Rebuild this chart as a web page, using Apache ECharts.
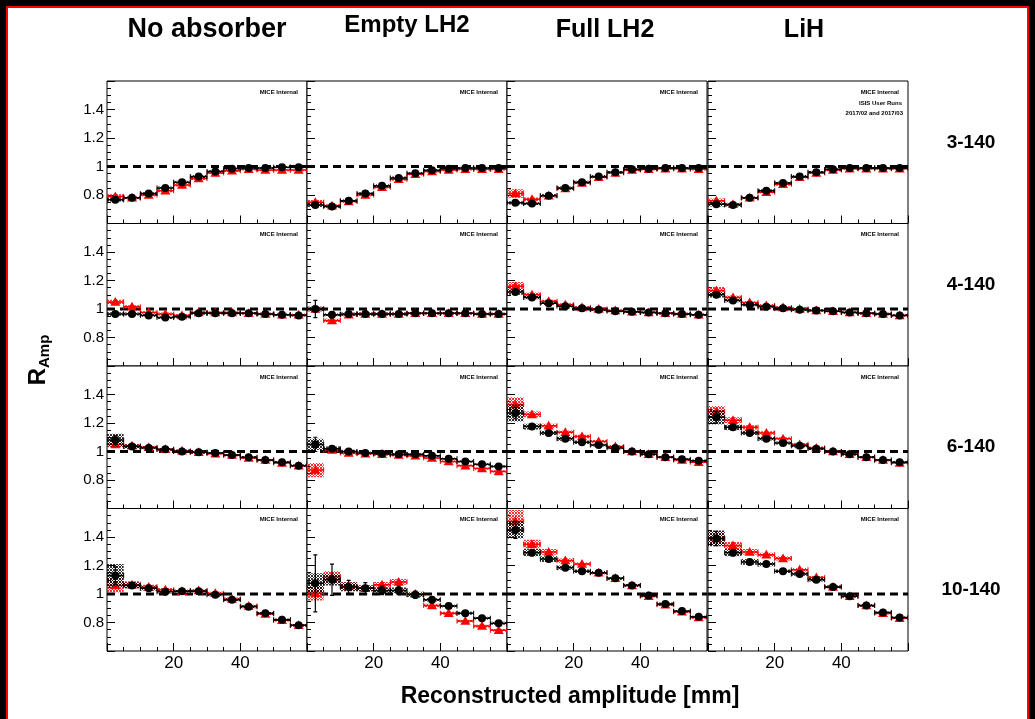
<!DOCTYPE html>
<html><head><meta charset="utf-8">
<script src="https://cdn.jsdelivr.net/npm/echarts@6/dist/echarts.min.js"></script>
<style>html,body{margin:0;padding:0;background:#000;}#c{width:1035px;height:719px;}</style>
</head><body><div id="c"></div>
<script>
// ---------- categories / labels ----------
const binCentres = [2.5,7.5,12.5,17.5,22.5,27.5,32.5,37.5,42.5,47.5,52.5,57.5];
const binHalfWidth = 2.5;
const absorbers = ['No absorber','Empty LH2','Full LH2','LiH'];
const emittances = ['3-140','4-140','6-140','10-140'];
const yTickLabels = ['0.8','1','1.2','1.4'];
const xTickLabels = ['20','40'];
const refLine = 1;

// ---------- data: 3-140 ----------
const blk_NA_3 = [0.766,0.78,0.81,0.85,0.89,0.93,0.965,0.985,0.99,0.99,0.995,0.995];
const red_NA_3 = [0.79,0.78,0.80,0.83,0.87,0.915,0.955,0.97,0.98,0.975,0.975,0.975];
const blk_EL_3 = [0.73,0.72,0.76,0.81,0.865,0.92,0.953,0.974,0.985,0.99,0.99,0.99];
const red_EL_3 = [0.75,0.725,0.755,0.80,0.855,0.91,0.945,0.965,0.975,0.98,0.98,0.98];
const blk_FL_3 = [0.745,0.74,0.795,0.85,0.89,0.93,0.96,0.98,0.985,0.99,0.99,0.99];
const red_FL_3 = [0.81,0.77,0.795,0.845,0.885,0.925,0.955,0.975,0.98,0.985,0.985,0.98];
const blk_LI_3 = [0.735,0.73,0.78,0.83,0.885,0.93,0.96,0.98,0.99,0.99,0.99,0.99];
const red_LI_3 = [0.76,0.735,0.78,0.82,0.875,0.925,0.955,0.975,0.985,0.985,0.985,0.985];
// ---------- data: 4-140 ----------
const blk_NA_4 = [0.965,0.965,0.955,0.94,0.945,0.97,0.97,0.97,0.97,0.965,0.96,0.955];
const red_NA_4 = [1.05,1.015,0.975,0.965,0.955,0.975,0.975,0.975,0.97,0.965,0.96,0.96];
const blk_EL_4 = [1.0,0.96,0.965,0.965,0.965,0.965,0.97,0.97,0.97,0.97,0.965,0.965];
const red_EL_4 = [1.0,0.92,0.96,0.965,0.965,0.965,0.97,0.97,0.97,0.97,0.965,0.965];
const blk_FL_4 = [1.12,1.08,1.04,1.02,1.005,0.995,0.985,0.98,0.975,0.97,0.965,0.96];
const red_FL_4 = [1.16,1.10,1.055,1.03,1.01,1.0,0.99,0.98,0.975,0.97,0.965,0.96];
const blk_LI_4 = [1.10,1.06,1.03,1.015,1.005,0.995,0.99,0.985,0.975,0.97,0.965,0.955];
const red_LI_4 = [1.13,1.08,1.045,1.025,1.01,1.0,0.99,0.985,0.975,0.97,0.965,0.955];
// ---------- data: 6-140 ----------
const blk_NA_6 = [1.08,1.035,1.025,1.015,1.0,0.995,0.99,0.975,0.96,0.94,0.925,0.9];
const red_NA_6 = [1.05,1.04,1.03,1.015,1.005,0.995,0.985,0.975,0.955,0.94,0.92,0.9];
const blk_EL_6 = [1.05,1.02,1.0,0.99,0.985,0.98,0.98,0.97,0.95,0.93,0.91,0.895];
const red_EL_6 = [0.87,1.01,0.99,0.985,0.98,0.975,0.97,0.955,0.93,0.9,0.88,0.86];
const blk_FL_6 = [1.27,1.175,1.13,1.09,1.065,1.045,1.025,1.0,0.98,0.96,0.945,0.935];
const red_FL_6 = [1.33,1.26,1.18,1.135,1.105,1.07,1.035,1.0,0.98,0.96,0.94,0.925];
const blk_LI_6 = [1.24,1.17,1.13,1.09,1.06,1.04,1.02,1.0,0.98,0.96,0.94,0.925];
const red_LI_6 = [1.28,1.22,1.17,1.13,1.09,1.05,1.025,1.0,0.98,0.96,0.94,0.92];
// ---------- data: 10-140 ----------
const blk_NA_10 = [1.13,1.06,1.04,1.015,1.02,1.02,0.995,0.96,0.91,0.865,0.82,0.78];
const red_NA_10 = [1.06,1.065,1.05,1.03,1.02,1.025,1.005,0.965,0.915,0.86,0.815,0.78];
const blk_EL_10 = [1.075,1.1,1.05,1.04,1.025,1.025,0.995,0.96,0.915,0.865,0.83,0.795];
const red_EL_10 = [1.005,1.12,1.055,1.04,1.065,1.085,1.0,0.92,0.865,0.81,0.775,0.745];
const blk_FL_10 = [1.45,1.29,1.245,1.185,1.16,1.15,1.11,1.06,0.99,0.93,0.88,0.84];
const red_FL_10 = [1.51,1.35,1.295,1.235,1.21,1.15,1.11,1.06,0.985,0.925,0.875,0.835];
const blk_LI_10 = [1.39,1.29,1.225,1.21,1.16,1.14,1.1,1.05,0.985,0.92,0.87,0.835];
const red_LI_10 = [1.39,1.34,1.295,1.275,1.25,1.17,1.115,1.05,0.985,0.92,0.865,0.83];

// ---------- systematic (box half-heights) ----------
const bsys_NA_3 = [0.012,0.01,0.01,0.01,0.01,0.01,0.008,0.008,0.008,0.008,0.008,0.008];
const rsys_NA_3 = [0.015,0.01,0.01,0.01,0.01,0.01,0.008,0.008,0.008,0.008,0.008,0.008];
const bsys_EL_3 = [0.015,0.01,0.01,0.01,0.01,0.01,0.008,0.008,0.008,0.008,0.008,0.008];
const rsys_EL_3 = [0.015,0.01,0.01,0.01,0.01,0.01,0.008,0.008,0.008,0.008,0.008,0.008];
const bsys_FL_3 = [0.012,0.01,0.01,0.01,0.01,0.01,0.008,0.008,0.008,0.008,0.008,0.008];
const rsys_FL_3 = [0.03,0.012,0.01,0.01,0.01,0.01,0.008,0.008,0.008,0.008,0.008,0.008];
const bsys_LI_3 = [0.015,0.01,0.01,0.01,0.01,0.01,0.008,0.008,0.008,0.008,0.008,0.008];
const rsys_LI_3 = [0.015,0.01,0.01,0.01,0.01,0.01,0.008,0.008,0.008,0.008,0.008,0.008];
const bsys_NA_4 = [0.012,0.01,0.01,0.01,0.01,0.01,0.008,0.008,0.008,0.008,0.008,0.008];
const rsys_NA_4 = [0.015,0.012,0.01,0.01,0.01,0.01,0.008,0.008,0.008,0.008,0.008,0.008];
const bsys_EL_4 = [0.015,0.01,0.01,0.01,0.01,0.01,0.008,0.008,0.008,0.008,0.008,0.008];
const rsys_EL_4 = [0.015,0.012,0.01,0.01,0.01,0.01,0.008,0.008,0.008,0.008,0.008,0.008];
const bsys_FL_4 = [0.02,0.012,0.01,0.01,0.01,0.01,0.008,0.008,0.008,0.008,0.008,0.008];
const rsys_FL_4 = [0.03,0.015,0.01,0.01,0.01,0.01,0.008,0.008,0.008,0.008,0.008,0.008];
const bsys_LI_4 = [0.02,0.012,0.01,0.01,0.01,0.01,0.008,0.008,0.008,0.008,0.008,0.008];
const rsys_LI_4 = [0.025,0.015,0.01,0.01,0.01,0.01,0.008,0.008,0.008,0.008,0.008,0.008];
const bsys_NA_6 = [0.045,0.015,0.01,0.01,0.01,0.01,0.008,0.008,0.008,0.008,0.008,0.008];
const rsys_NA_6 = [0.02,0.012,0.01,0.01,0.01,0.01,0.008,0.008,0.008,0.008,0.008,0.008];
const bsys_EL_6 = [0.04,0.015,0.012,0.01,0.01,0.01,0.008,0.008,0.008,0.008,0.008,0.008];
const rsys_EL_6 = [0.05,0.015,0.012,0.01,0.01,0.01,0.008,0.008,0.008,0.008,0.008,0.008];
const bsys_FL_6 = [0.06,0.02,0.015,0.015,0.012,0.01,0.01,0.008,0.008,0.008,0.008,0.008];
const rsys_FL_6 = [0.05,0.02,0.015,0.012,0.012,0.01,0.01,0.008,0.008,0.008,0.008,0.008];
const bsys_LI_6 = [0.05,0.02,0.015,0.012,0.01,0.01,0.01,0.008,0.008,0.008,0.008,0.008];
const rsys_LI_6 = [0.04,0.02,0.015,0.012,0.01,0.01,0.01,0.008,0.008,0.008,0.008,0.008];
const bsys_NA_10 = [0.08,0.02,0.015,0.012,0.01,0.01,0.01,0.01,0.01,0.008,0.008,0.008];
const rsys_NA_10 = [0.05,0.025,0.015,0.012,0.01,0.01,0.01,0.01,0.01,0.008,0.008,0.008];
const bsys_EL_10 = [0.07,0.04,0.03,0.02,0.02,0.02,0.015,0.012,0.01,0.01,0.01,0.01];
const rsys_EL_10 = [0.05,0.04,0.03,0.02,0.02,0.02,0.015,0.012,0.01,0.01,0.01,0.01];
const bsys_FL_10 = [0.06,0.025,0.02,0.015,0.012,0.012,0.01,0.01,0.01,0.01,0.008,0.008];
const rsys_FL_10 = [0.08,0.03,0.02,0.015,0.012,0.012,0.01,0.01,0.01,0.01,0.008,0.008];
const bsys_LI_10 = [0.055,0.025,0.02,0.015,0.012,0.012,0.012,0.01,0.01,0.01,0.008,0.008];
const rsys_LI_10 = [0.05,0.025,0.02,0.015,0.015,0.012,0.012,0.01,0.01,0.01,0.008,0.008];

// ---------- statistical (vertical bars, black) ----------
const bstat_NA_3 = [0.006,0.005,0.005,0.005,0.005,0.005,0.005,0.005,0.005,0.005,0.005,0.005];
const bstat_EL_3 = [0.008,0.006,0.006,0.005,0.005,0.005,0.005,0.005,0.005,0.005,0.005,0.005];
const bstat_FL_3 = [0.006,0.005,0.005,0.005,0.005,0.005,0.005,0.005,0.005,0.005,0.005,0.005];
const bstat_LI_3 = [0.006,0.005,0.005,0.005,0.005,0.005,0.005,0.005,0.005,0.005,0.005,0.005];
const bstat_NA_4 = [0.01,0.006,0.005,0.005,0.005,0.005,0.005,0.005,0.005,0.005,0.005,0.005];
const bstat_EL_4 = [0.06,0.02,0.01,0.008,0.006,0.006,0.005,0.005,0.005,0.005,0.005,0.005];
const bstat_FL_4 = [0.015,0.008,0.006,0.005,0.005,0.005,0.005,0.005,0.005,0.005,0.005,0.005];
const bstat_LI_4 = [0.015,0.008,0.006,0.005,0.005,0.005,0.005,0.005,0.005,0.005,0.005,0.005];
const bstat_NA_6 = [0.03,0.01,0.008,0.006,0.005,0.005,0.005,0.005,0.005,0.005,0.005,0.005];
const bstat_EL_6 = [0.05,0.02,0.012,0.01,0.008,0.008,0.006,0.006,0.006,0.006,0.006,0.006];
const bstat_FL_6 = [0.04,0.012,0.008,0.006,0.006,0.005,0.005,0.005,0.005,0.005,0.005,0.005];
const bstat_LI_6 = [0.04,0.012,0.008,0.006,0.006,0.005,0.005,0.005,0.005,0.005,0.005,0.005];
const bstat_NA_10 = [0.06,0.02,0.012,0.01,0.008,0.008,0.006,0.006,0.006,0.006,0.006,0.006];
const bstat_EL_10 = [0.2,0.11,0.045,0.04,0.03,0.03,0.025,0.02,0.015,0.015,0.015,0.015];
const bstat_FL_10 = [0.06,0.02,0.015,0.012,0.01,0.01,0.008,0.008,0.008,0.008,0.008,0.008];
const bstat_LI_10 = [0.05,0.02,0.015,0.012,0.01,0.01,0.008,0.008,0.008,0.008,0.008,0.008];

// ---------- panel assembly ----------
const panelBlack = [
  [blk_NA_3, blk_EL_3, blk_FL_3, blk_LI_3],
  [blk_NA_4, blk_EL_4, blk_FL_4, blk_LI_4],
  [blk_NA_6, blk_EL_6, blk_FL_6, blk_LI_6],
  [blk_NA_10, blk_EL_10, blk_FL_10, blk_LI_10]];
const panelRed = [
  [red_NA_3, red_EL_3, red_FL_3, red_LI_3],
  [red_NA_4, red_EL_4, red_FL_4, red_LI_4],
  [red_NA_6, red_EL_6, red_FL_6, red_LI_6],
  [red_NA_10, red_EL_10, red_FL_10, red_LI_10]];
const panelBSys = [
  [bsys_NA_3, bsys_EL_3, bsys_FL_3, bsys_LI_3],
  [bsys_NA_4, bsys_EL_4, bsys_FL_4, bsys_LI_4],
  [bsys_NA_6, bsys_EL_6, bsys_FL_6, bsys_LI_6],
  [bsys_NA_10, bsys_EL_10, bsys_FL_10, bsys_LI_10]];
const panelRSys = [
  [rsys_NA_3, rsys_EL_3, rsys_FL_3, rsys_LI_3],
  [rsys_NA_4, rsys_EL_4, rsys_FL_4, rsys_LI_4],
  [rsys_NA_6, rsys_EL_6, rsys_FL_6, rsys_LI_6],
  [rsys_NA_10, rsys_EL_10, rsys_FL_10, rsys_LI_10]];
const panelBStat = [
  [bstat_NA_3, bstat_EL_3, bstat_FL_3, bstat_LI_3],
  [bstat_NA_4, bstat_EL_4, bstat_FL_4, bstat_LI_4],
  [bstat_NA_6, bstat_EL_6, bstat_FL_6, bstat_LI_6],
  [bstat_NA_10, bstat_EL_10, bstat_FL_10, bstat_LI_10]];

// ---------- layout ----------
const FONT = 'Liberation Sans, Arial, Helvetica, sans-serif';
const colLeft = [107, 307, 507, 708];
const colWidth = 200;
const rowTop = [81, 223.5, 366, 508.5];
const rowHeight = 142.5;

function makePattern(color) {
  const c = document.createElement('canvas');
  c.width = 3; c.height = 3;
  const ctx = c.getContext('2d');
  ctx.fillStyle = color;
  ctx.fillRect(0,0,1,1); ctx.fillRect(2,0,1,1); ctx.fillRect(1,1,1,1);
  ctx.fillRect(0,2,1,1); ctx.fillRect(2,2,1,1);
  return c;
}
const blackPattern = { image: makePattern('rgba(0,0,0,0.8)'), repeat: 'repeat' };
const redPattern = { image: makePattern('rgba(255,0,0,0.8)'), repeat: 'repeat' };

function makeRender(color, pattern, marker) {
  return function (params, api) {
    const x = api.value(0), y = api.value(1), sys = api.value(2), stat = api.value(3);
    const pl = api.coord([x - binHalfWidth, y + sys]);
    const pr = api.coord([x + binHalfWidth, y - sys]);
    const pc = api.coord([x, y]);
    const a = api.coord([x - binHalfWidth, y]);
    const b = api.coord([x + binHalfWidth, y]);
    const st = api.coord([x, y + stat]);
    const sb = api.coord([x, y - stat]);
    const children = [
      { type: 'rect', shape: { x: pl[0], y: pl[1], width: pr[0] - pl[0], height: Math.max(pr[1] - pl[1], 2) },
        style: { fill: pattern, stroke: null } },
      { type: 'line', shape: { x1: a[0], y1: a[1], x2: b[0], y2: b[1] }, style: { stroke: color, lineWidth: 1.5 } },
      { type: 'line', shape: { x1: a[0], y1: a[1] - 2.5, x2: a[0], y2: a[1] + 2.5 }, style: { stroke: color, lineWidth: 1 } },
      { type: 'line', shape: { x1: b[0], y1: b[1] - 2.5, x2: b[0], y2: b[1] + 2.5 }, style: { stroke: color, lineWidth: 1 } }
    ];
    if (stat > 0.012) {
      children.push({ type: 'line', shape: { x1: st[0], y1: st[1], x2: sb[0], y2: sb[1] }, style: { stroke: color, lineWidth: 1.2 } });
      children.push({ type: 'line', shape: { x1: st[0] - 2, y1: st[1], x2: st[0] + 2, y2: st[1] }, style: { stroke: color, lineWidth: 1.2 } });
      children.push({ type: 'line', shape: { x1: sb[0] - 2, y1: sb[1], x2: sb[0] + 2, y2: sb[1] }, style: { stroke: color, lineWidth: 1.2 } });
    }
    if (marker === 'circle') {
      children.push({ type: 'circle', shape: { cx: pc[0], cy: pc[1], r: 4 }, style: { fill: color } });
    } else {
      const s = 5;
      children.push({ type: 'polygon', shape: { points: [[pc[0], pc[1] - s], [pc[0] - s, pc[1] + s * 0.75], [pc[0] + s, pc[1] + s * 0.75]] }, style: { fill: color } });
    }
    return { type: 'group', children };
  };
}

const grids = [], xAxes = [], yAxes = [], series = [], graphics = [];
for (let r = 0; r < 4; r++) {
  for (let c = 0; c < 4; c++) {
    const idx = r * 4 + c;
    grids.push({ left: colLeft[c], top: rowTop[r], width: colWidth, height: rowHeight,
      show: true, borderColor: '#000', borderWidth: 1, backgroundColor: '#fff' });
    xAxes.push({ gridIndex: idx, type: 'value', min: 0, max: 60, interval: 20,
      axisLine: { show: false }, splitLine: { show: false },
      axisTick: { show: true, inside: true, length: 8, lineStyle: { color: '#000', width: 1 } },
      minorTick: { show: true, splitNumber: 4, length: 4, lineStyle: { color: '#000', width: 1 } },
      axisLabel: { show: r === 3, fontFamily: FONT, fontSize: 17, color: '#000', margin: 4,
        formatter: v => (xTickLabels.indexOf(String(Math.round(v))) >= 0 ? String(Math.round(v)) : '') } });
    yAxes.push({ gridIndex: idx, type: 'value', min: 0.6, max: 1.6, interval: 0.2,
      axisLine: { show: false }, splitLine: { show: false },
      axisTick: { show: true, inside: true, length: 8, lineStyle: { color: '#000', width: 1 } },
      minorTick: { show: true, splitNumber: 4, length: 4, lineStyle: { color: '#000', width: 1 } },
      axisLabel: { show: c === 0, fontFamily: FONT, fontSize: 15, color: '#000', margin: 3,
        formatter: v => { const s = String(Number(v.toFixed(1))); return yTickLabels.indexOf(s) >= 0 ? s : ''; } } });
    // reference line at R = 1
    series.push({ type: 'line', xAxisIndex: idx, yAxisIndex: idx, data: [[0, refLine], [60, refLine]],
      symbol: 'none', silent: true, z: 2,
      lineStyle: { color: '#000', width: 3, type: [8, 5] } });
    const redData = binCentres.map((x, i) => [x, panelRed[r][c][i], panelRSys[r][c][i], 0]);
    const blkData = binCentres.map((x, i) => [x, panelBlack[r][c][i], panelBSys[r][c][i], panelBStat[r][c][i]]);
    series.push({ type: 'custom', xAxisIndex: idx, yAxisIndex: idx, data: redData, clip: true, z: 3,
      renderItem: makeRender('#ff0000', redPattern, 'triangle'), silent: true });
    series.push({ type: 'custom', xAxisIndex: idx, yAxisIndex: idx, data: blkData, clip: true, z: 4,
      renderItem: makeRender('#000000', blackPattern, 'circle'), silent: true });
    graphics.push({ type: 'text', right: 1035 - (colLeft[c] + colWidth - 9), top: rowTop[r] + 8, z: 10,
      style: { text: 'MICE Internal', font: 'bold 6px ' + FONT, fill: '#000' } });
  }
}
graphics.push({ type: 'text', right: 1035 - (colLeft[3] + colWidth - 6), top: rowTop[0] + 19, z: 10,
  style: { text: 'ISIS User Runs', font: 'bold 6px ' + FONT, fill: '#000' } });
graphics.push({ type: 'text', right: 1035 - (colLeft[3] + colWidth - 5), top: rowTop[0] + 29, z: 10,
  style: { text: '2017/02 and 2017/03', font: 'bold 6px ' + FONT, fill: '#000' } });

// column titles
const titleX = [207, 407, 605, 804];
const titleY = [30, 25, 30, 30];
const titleSize = [27, 24, 25, 25];
absorbers.forEach((t, i) => graphics.push({ type: 'text', x: titleX[i], y: titleY[i], z: 10,
  style: { text: t, font: 'bold ' + titleSize[i] + 'px ' + FONT, fill: '#000', textAlign: 'center', textVerticalAlign: 'middle' } }));
// row labels
const rowLabelY = [143, 285, 447, 590];
emittances.forEach((t, i) => graphics.push({ type: 'text', x: 971, y: rowLabelY[i], z: 10,
  style: { text: t, font: 'bold 19px ' + FONT, fill: '#000', textAlign: 'center', textVerticalAlign: 'middle' } }));
// axis titles
graphics.push({ type: 'text', x: 570, y: 697, z: 10,
  style: { text: 'Reconstructed amplitude [mm]', font: 'bold 23px ' + FONT, fill: '#000', textAlign: 'center', textVerticalAlign: 'middle' } });
graphics.push({ type: 'text', x: 38, y: 360, rotation: Math.PI / 2, z: 10,
  style: { text: '{a|R}{b|Amp}', textAlign: 'center', textVerticalAlign: 'middle',
    rich: { a: { font: 'bold 24px ' + FONT, fill: '#000' }, b: { font: 'bold 15px ' + FONT, fill: '#000', padding: [14, 0, 0, 0] } } } });

// outer frame
graphics.unshift({ type: 'rect', shape: { x: 7, y: 7, width: 1021, height: 720 }, z: -10,
  style: { fill: '#fff', stroke: '#ff0000', lineWidth: 2 } });

const chart = echarts.init(document.getElementById('c'), null, { renderer: 'canvas' });
chart.setOption({
  backgroundColor: '#000',
  animation: false,
  grid: grids, xAxis: xAxes, yAxis: yAxes, series: series, graphic: graphics
});
</script></body></html>
